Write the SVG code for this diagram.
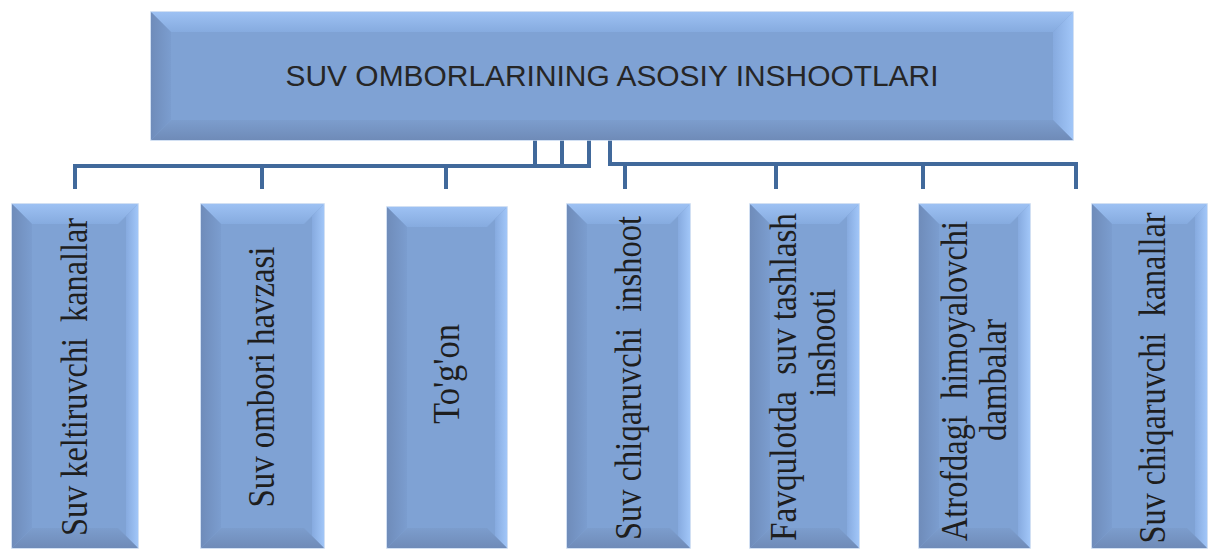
<svg xmlns="http://www.w3.org/2000/svg" width="1208" height="550" viewBox="0 0 1208 550">
<defs>
<linearGradient id="gTop" x1="0" y1="0" x2="0" y2="1"><stop offset="0" stop-color="#9DC1F3"/><stop offset="1" stop-color="#86ABDF"/></linearGradient>
<linearGradient id="gLeft" x1="0" y1="0" x2="1" y2="0"><stop offset="0" stop-color="#6F8CBA"/><stop offset="1" stop-color="#7B9DCF"/></linearGradient>
<linearGradient id="gRight" x1="0" y1="0" x2="1" y2="0"><stop offset="0" stop-color="#86AADF"/><stop offset="1" stop-color="#A1C6F8"/></linearGradient>
<linearGradient id="gBot" x1="0" y1="0" x2="0" y2="1"><stop offset="0" stop-color="#7C9DCD"/><stop offset="1" stop-color="#6F8BB8"/></linearGradient>
</defs>
<style>
.edge{fill:#7FA2D4;stroke:#C3D6EF;stroke-width:1.5}
.bt{fill:url(#gTop)}
.bl{fill:url(#gLeft)}
.br{fill:url(#gRight)}
.bb{fill:url(#gBot)}
.title{font-family:"Liberation Sans",Arial,sans-serif;font-size:29px;fill:#262626}
.lbl{font-family:"Liberation Serif","Times New Roman",serif;font-size:37px;fill:#1E1E1E;text-anchor:middle}
.conn{fill:none;stroke:#41699B;stroke-width:4;stroke-linejoin:miter;stroke-linecap:butt}
</style>
<rect width="1208" height="550" fill="#FFFFFF"/>

<g id="connectors">
<path class="conn" d="M75,189 V166 H589 V140 M262,166 V189 M446,166 V189 M535,140 V166 M562,140 V166"/>
<path class="conn" d="M610,140 V164 H1076 V189 M625,164 V189 M776,164 V189 M923,164 V189"/>
</g>

<g id="n0">
<rect class="edge" x="151" y="12" width="922" height="128"/>
<polygon class="bt" points="151,12 1073,12 1053,32 171,32"/>
<polygon class="bl" points="151,12 171,32 171,120 151,140"/>
<polygon class="br" points="1073,12 1073,140 1053,120 1053,32"/>
<polygon class="bb" points="151,140 171,120 1053,120 1073,140"/>
<text class="title" x="612" y="86" text-anchor="middle" textLength="653" lengthAdjust="spacingAndGlyphs">SUV OMBORLARINING ASOSIY INSHOOTLARI</text>
</g>

<g id="n1">
<rect class="edge" x="12" y="204" width="126" height="344"/>
<polygon class="bt" points="12,204 138,204 118,224 32,224"/>
<polygon class="bl" points="12,204 32,224 32,528 12,548"/>
<polygon class="br" points="138,204 138,548 126,536 126,216"/>
<polygon class="bb" points="12,548 32,528 118,528 138,548"/>
<text class="lbl" xml:space="preserve" transform="translate(87,377) rotate(-90)" textLength="318" lengthAdjust="spacingAndGlyphs">Suv keltiruvchi  kanallar</text>
</g>

<g id="n2">
<rect class="edge" x="201" y="204" width="123" height="344"/>
<polygon class="bt" points="201,204 324,204 304,224 221,224"/>
<polygon class="bl" points="201,204 221,224 221,528 201,548"/>
<polygon class="br" points="324,204 324,548 312,536 312,216"/>
<polygon class="bb" points="201,548 221,528 304,528 324,548"/>
<text class="lbl" transform="translate(274,377) rotate(-90)" textLength="261" lengthAdjust="spacingAndGlyphs">Suv ombori havzasi</text>
</g>

<g id="n3">
<rect class="edge" x="387" y="207" width="120" height="341"/>
<polygon class="bt" points="387,207 507,207 487,227 407,227"/>
<polygon class="bl" points="387,207 407,227 407,528 387,548"/>
<polygon class="br" points="507,207 507,548 495,536 495,219"/>
<polygon class="bb" points="387,548 407,528 487,528 507,548"/>
<text class="lbl" transform="translate(459,374) rotate(-90)" textLength="100" lengthAdjust="spacingAndGlyphs">To'g'on</text>
</g>

<g id="n4">
<rect class="edge" x="567" y="204" width="123" height="344"/>
<polygon class="bt" points="567,204 690,204 670,224 587,224"/>
<polygon class="bl" points="567,204 587,224 587,528 567,548"/>
<polygon class="br" points="690,204 690,548 678,536 678,216"/>
<polygon class="bb" points="567,548 587,528 670,528 690,548"/>
<text class="lbl" xml:space="preserve" transform="translate(641,378) rotate(-90)" textLength="324" lengthAdjust="spacingAndGlyphs">Suv chiqaruvchi  inshoot</text>
</g>

<g id="n5">
<rect class="edge" x="750" y="204" width="109" height="344"/>
<polygon class="bt" points="750,204 859,204 839,224 770,224"/>
<polygon class="bl" points="750,204 770,224 770,528 750,548"/>
<polygon class="br" points="859,204 859,548 847,536 847,216"/>
<polygon class="bb" points="750,548 770,528 839,528 859,548"/>
<text class="lbl" xml:space="preserve" transform="translate(796,377) rotate(-90)" textLength="328" lengthAdjust="spacingAndGlyphs">Favqulotda  suv tashlash</text>
<text class="lbl" transform="translate(835,343) rotate(-90)" textLength="108" lengthAdjust="spacingAndGlyphs">inshooti</text>
</g>

<g id="n6">
<rect class="edge" x="919" y="204" width="111" height="344"/>
<polygon class="bt" points="919,204 1030,204 1010,224 939,224"/>
<polygon class="bl" points="919,204 939,224 939,528 919,548"/>
<polygon class="br" points="1030,204 1030,548 1018,536 1018,216"/>
<polygon class="bb" points="919,548 939,528 1010,528 1030,548"/>
<text class="lbl" xml:space="preserve" transform="translate(967,381) rotate(-90)" textLength="320" lengthAdjust="spacingAndGlyphs">Atrofdagi  himoyalovchi</text>
<text class="lbl" transform="translate(1006,380) rotate(-90)" textLength="122" lengthAdjust="spacingAndGlyphs">dambalar</text>
</g>

<g id="n7">
<rect class="edge" x="1092" y="204" width="115" height="344"/>
<polygon class="bt" points="1092,204 1207,204 1187,224 1112,224"/>
<polygon class="bl" points="1092,204 1112,224 1112,528 1092,548"/>
<polygon class="br" points="1207,204 1207,548 1195,536 1195,216"/>
<polygon class="bb" points="1092,548 1112,528 1187,528 1207,548"/>
<text class="lbl" xml:space="preserve" transform="translate(1165,378) rotate(-90)" textLength="331" lengthAdjust="spacingAndGlyphs">Suv chiqaruvchi  kanallar</text>
</g>
</svg>
